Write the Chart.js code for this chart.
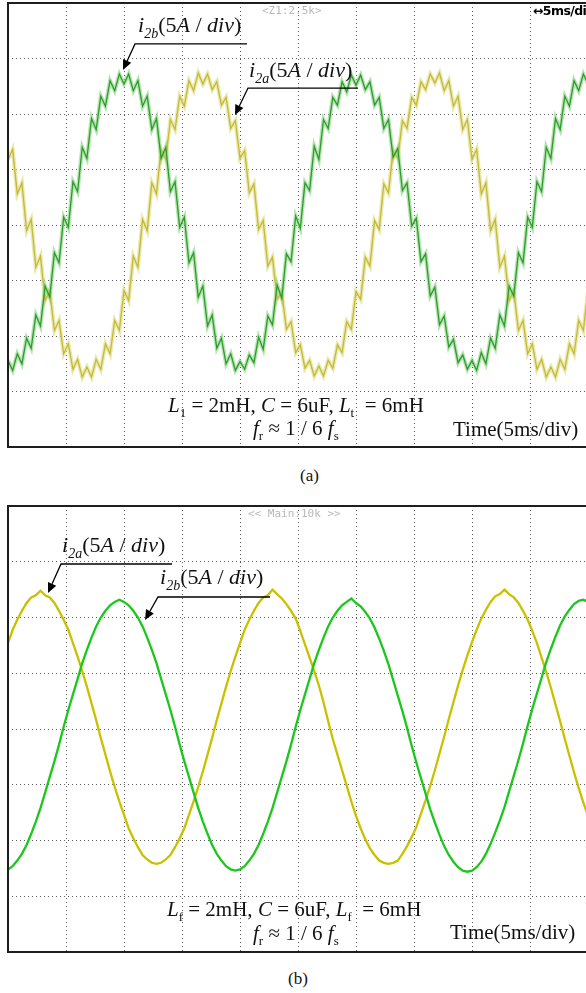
<!DOCTYPE html>
<html>
<head>
<meta charset="utf-8">
<script src="https://cdn.jsdelivr.net/npm/chart.js@4.4.1/dist/chart.umd.min.js"></script>
<style>
  html, body { margin: 0; padding: 0; background: #fff; }
  body { width: 586px; height: 993px; overflow: hidden; position: relative;
         font-family: "Liberation Serif", "Times New Roman", serif; color: #111; }
  canvas { position: absolute; left: 0; }
  #cvA { top: 0; }
  #cvB { top: 500px; }
  .t { position: absolute; white-space: nowrap; line-height: 1; }
  .lbl { font-size: 22px; }
  .lbl i { font-style: italic; }
  .lbl sub { font-size: 14px; font-style: italic; vertical-align: -6px; line-height: 0; }
  .eq { font-size: 21px; }
  .eq i { font-style: italic; }
  .eq sub { font-size: 13px; vertical-align: -5px; line-height: 0; }
  .scope { font-family: "DejaVu Sans Mono", monospace; font-size: 11px; color: #b8b8b8; }
  .divtag { font-family: "DejaVu Sans", sans-serif; font-weight: bold; font-size: 12.5px; color: #000; letter-spacing: -0.6px; }
  .cap { font-size: 17px; }
</style>
</head>
<body>
<canvas id="cvA" width="600" height="452"></canvas>
<canvas id="cvB" width="600" height="460"></canvas>

<!-- panel (a) texts -->
<div class="t scope" style="left:262px;top:5px">&lt;Z1:2.5k&gt;</div>
<div class="t divtag" style="left:533px;top:5px">↔5ms/div</div>
<div class="t lbl" style="left:138px;top:13.6px"><i>i</i><sub>2b</sub>(5<i>A</i> / <i>div</i>)</div>
<div class="t lbl" style="left:249px;top:58.6px"><i>i</i><sub>2a</sub>(5<i>A</i> / <i>div</i>)</div>
<div class="t eq" style="left:168px;top:395px"><i>L</i><sub>1</sub> = 2mH, <i>C</i> = 6uF, <i>L</i><sub>t</sub> &nbsp;= 6mH</div>
<div class="t eq" style="left:253px;top:418px"><i>f</i><sub>r</sub> ≈ 1 / 6 <i>f</i><sub>s</sub></div>
<div class="t eq" style="left:453px;top:419px">Time(5ms/div)</div>
<div class="t cap" style="left:300px;top:467px">(a)</div>

<!-- panel (b) texts -->
<div class="t scope" style="left:248px;top:508px">&lt;&lt; Main:10k &gt;&gt;</div>
<div class="t lbl" style="left:62px;top:534px"><i>i</i><sub>2a</sub>(5<i>A</i> / <i>div</i>)</div>
<div class="t lbl" style="left:160px;top:566px"><i>i</i><sub>2b</sub>(5<i>A</i> / <i>div</i>)</div>
<div class="t eq" style="left:167px;top:899px"><i>L</i><sub>f</sub> = 2mH, <i>C</i> = 6uF, <i>L</i><sub>f</sub> &nbsp;= 6mH</div>
<div class="t eq" style="left:253px;top:923px"><i>f</i><sub>r</sub> ≈ 1 / 6 <i>f</i><sub>s</sub></div>
<div class="t eq" style="left:450px;top:922px">Time(5ms/div)</div>
<div class="t cap" style="left:288px;top:970px">(b)</div>

<script>
// sample times, ms (10 div x 5 ms)
const timeMs = [0,0.4,0.8,1.2,1.6,2,2.4,2.8,3.2,3.6,4,4.4,4.8,5.2,5.6,6,6.4,6.8,7.2,7.6,
  8,8.4,8.8,9.2,9.6,10,10.4,10.8,11.2,11.6,12,12.4,12.8,13.2,13.6,14,14.4,14.8,15.2,15.6,
  16,16.4,16.8,17.2,17.6,18,18.4,18.8,19.2,19.6,20,20.4,20.8,21.2,21.6,22,22.4,22.8,23.2,23.6,
  24,24.4,24.8,25.2,25.6,26,26.4,26.8,27.2,27.6,28,28.4,28.8,29.2,29.6,30,30.4,30.8,31.2,31.6,
  32,32.4,32.8,33.2,33.6,34,34.4,34.8,35.2,35.6,36,36.4,36.8,37.2,37.6,38,38.4,38.8,39.2,39.6,
  40,40.4,40.8,41.2,41.6,42,42.4,42.8,43.2,43.6,44,44.4,44.8,45.2,45.6,46,46.4,46.8,47.2,47.6,
  48,48.4,48.8,49.2,49.6,50];

// tick grid: 5 ms/div, 5 A/div
const xTicks = [0,5,10,15,20,25,30,35,40,45,50];
const yTicks = [-20,-15,-10,-5,0,5,10,15,20];

// (a) fr ~ 1/6 fs : currents with switching ripple, A
const i2bA = [-12.2,-13.1,-11.6,-12.5,-10.2,-11.1,-8.1,-9.1,-5.5,-6.5,-2.5,-3.4,0.7,-0.2,3.9,3.0,7.0,6.0,9.6,8.6,
  11.6,10.7,13.0,12.1,13.6,12.7,13.6,12.1,13.0,10.7,11.6,8.6,9.6,6.0,7.0,3.0,3.9,-0.2,0.7,-3.4,
  -2.5,-6.5,-5.5,-9.1,-8.1,-11.1,-10.2,-12.5,-11.6,-13.1,
  -12.3,-13.0,-11.7,-12.4,-10.1,-11.2,-8.2,-9.0,-5.4,-6.6,-2.6,-3.3,0.8,-0.3,3.8,3.1,7.1,5.9,9.5,8.7,
  11.5,10.8,12.9,12.0,13.5,12.6,13.5,12.2,12.9,10.8,11.5,8.7,9.5,6.1,6.9,3.1,3.8,-0.1,0.6,-3.3,
  -2.6,-6.4,-5.6,-9.0,-8.2,-11.0,-10.3,-12.4,-11.7,-13.0,
  -12.2,-13.1,-11.5,-12.5,-10.2,-11.1,-8.1,-9.1,-5.5,-6.4,-2.5,-3.4,0.7,-0.2,3.9,3.0,7.0,6.0,9.6,8.6,
  11.6,10.7,13.0,12.1,13.6,12.7];
const i2aA = [5.9,6.8,2.8,3.8,-0.5,0.5,-3.8,-2.8,-6.8,-5.9,-9.5,-8.6,-11.6,-10.7,-13.0,-12.1,-13.7,-12.8,-13.7,-12.1,
  -13.0,-10.7,-11.6,-8.6,-9.5,-5.9,-6.8,-2.8,-3.8,0.5,-0.5,3.8,2.8,6.8,5.9,9.5,8.6,11.6,10.7,13.0,
  12.1,13.7,
  12.7,13.6,12.2,12.9,10.8,11.5,8.7,9.4,6.0,6.7,2.9,3.7,-0.4,0.4,-3.7,-2.9,-6.7,-6.0,-9.4,-8.7,
  -11.5,-10.8,-12.9,-12.2,-13.6,-12.7,-13.6,-12.2,-12.9,-10.8,-11.5,-8.7,-9.4,-6.0,-6.7,-2.9,-3.7,0.4,-0.4,3.7,
  2.9,6.7,6.0,9.4,8.7,11.5,10.8,12.9,12.2,13.6,
  12.8,13.7,12.1,13.0,10.7,11.6,8.6,9.5,5.9,6.8,2.8,3.8,-0.5,0.5,-3.8,-2.8,-6.8,-5.9,-9.5,-8.6,
  -11.6,-10.7,-13.0,-12.1,-13.7,-12.8,-13.7,-12.1,-13.0,-10.7,-11.6,-8.6,-9.5,-5.9];

// (b) smooth currents, A
const i2aB = [7.7,8.9,9.8,10.6,11.3,11.8,12.0,
  12.4,12.0,11.8,11.3,10.6,9.8,8.9,7.7,6.5,5.2,3.8,2.3,0.8,-0.8,-2.3,-3.8,-5.2,-6.5,-7.7,-8.9,
  -9.8,-10.6,-11.3,-11.7,-12.0,-12.1,-12.0,-11.7,-11.3,-10.6,-9.8,-8.9,-7.7,-6.5,-5.2,-3.8,-2.3,-0.8,0.8,2.3,
  3.8,5.2,6.5,7.7,8.9,9.8,10.6,11.3,11.8,12.0,
  12.5,12.1,11.7,11.2,10.6,9.9,8.8,7.6,6.4,5.2,3.9,2.4,0.7,-0.9,-2.3,-3.7,-5.1,-6.5,-7.8,-8.9,
  -9.9,-10.7,-11.3,-11.8,-12.0,-12.1,-12.0,-11.8,-11.2,-10.5,-9.7,-8.8,-7.6,-6.4,-5.1,-3.7,-2.2,-0.7,0.9,2.4,
  3.9,5.3,6.6,7.8,8.9,9.9,10.7,11.4,11.9,12.1,
  12.5,12.1,11.8,11.3,10.6,9.8,8.8,7.7,6.4,5.1,3.7,2.2,0.7,-0.9,-2.4,-3.9,-5.3,-6.6,-7.8];
const i2bB = [-12.6,-12.3,-11.8,-11.2,-10.4,-9.4,-8.3,-7.1,-5.7,-4.3,-2.9,-1.4,0.2,1.7,3.1,4.5,5.9,7.1,8.2,9.2,
  10.0,10.6,11.1,11.4,
  11.6,11.4,11.1,10.6,10.0,9.2,8.2,7.1,5.9,4.5,3.1,1.7,0.2,-1.4,-2.9,-4.3,-5.7,-7.1,-8.3,-9.4,
  -10.4,-11.2,-11.8,-12.3,-12.6,-12.7,-12.6,-12.3,-11.8,-11.2,-10.4,-9.4,-8.3,-7.1,-5.7,-4.3,-2.9,-1.4,0.2,1.7,
  3.1,4.5,5.9,7.1,8.2,9.2,10.0,10.6,11.1,11.4,
  11.7,11.3,11.0,10.5,9.9,9.1,8.1,7.0,5.8,4.4,3.0,1.6,0.1,-1.5,-3.0,-4.4,-5.8,-7.2,-8.4,-9.5,
  -10.5,-11.3,-11.9,-12.4,-12.7,-12.8,-12.7,-12.4,-11.9,-11.2,-10.3,-9.3,-8.2,-7.0,-5.6,-4.2,-2.8,-1.3,0.3,1.8,
  3.2,4.6,6.0,7.2,8.3,9.3,10.1,10.7,11.2,11.5,
  11.6,11.4];

function pts(ys) { return ys.map(function (v, i) { return { x: timeMs[i], y: v }; }); }

// frame + leader arrows (arrow points given in ms / A)
const scopeFrame = {
  id: 'scopeFrame',
  afterDatasetsDraw(chart, args, opts) {
    const ctx = chart.ctx, a = chart.chartArea, sx = chart.scales.x, sy = chart.scales.y;
    ctx.save();
    ctx.strokeStyle = '#1e1e1e';
    ctx.lineWidth = 2;
    ctx.beginPath();
    ctx.moveTo(a.right + 4, a.top); ctx.lineTo(a.left, a.top);
    ctx.lineTo(a.left, a.bottom); ctx.lineTo(a.right + 4, a.bottom);
    ctx.stroke();

    (opts.arrows || []).forEach(function (ar) {
      const e = [sx.getPixelForValue(ar.end[0]), sy.getPixelForValue(ar.end[1])];
      const c = [sx.getPixelForValue(ar.corner[0]), sy.getPixelForValue(ar.corner[1])];
      const p = [sx.getPixelForValue(ar.tip[0]), sy.getPixelForValue(ar.tip[1])];
      const ang = Math.atan2(p[1] - c[1], p[0] - c[0]);
      const hl = 10, hw = 4.5;
      const bx = p[0] - hl * Math.cos(ang), by = p[1] - hl * Math.sin(ang);
      ctx.strokeStyle = '#000';
      ctx.lineWidth = 1.3;
      ctx.beginPath();
      ctx.moveTo(e[0], e[1]); ctx.lineTo(c[0], c[1]); ctx.lineTo(bx, by);
      ctx.stroke();
      ctx.fillStyle = '#000';
      ctx.beginPath();
      ctx.moveTo(p[0], p[1]);
      ctx.lineTo(bx + hw * Math.sin(ang), by - hw * Math.cos(ang));
      ctx.lineTo(bx - hw * Math.sin(ang), by + hw * Math.cos(ang));
      ctx.closePath();
      ctx.fill();
    });
    ctx.restore();
  }
};

function scopeScales() {
  return {
    x: { type: 'linear', min: 0, max: 50, afterBuildTicks: function (s) { s.ticks = xTicks.map(function (v) { return { value: v }; }); },
         ticks: { display: false }, grid: { color: '#5a5a5a', lineWidth: 1, drawTicks: false },
         border: { display: false, dash: [1, 3] } },
    y: { type: 'linear', min: -20, max: 20, afterBuildTicks: function (s) { s.ticks = yTicks.map(function (v) { return { value: v }; }); },
         ticks: { display: false }, grid: { color: '#5a5a5a', lineWidth: 1, drawTicks: false },
         border: { display: false, dash: [1, 3] } }
  };
}

function line(data, color, width) {
  return { data: pts(data), borderColor: color, borderWidth: width, pointRadius: 0, tension: 0, fill: false };
}

new Chart(document.getElementById('cvA'), {
  type: 'line',
  data: { datasets: [
    line(i2bA, '#2f9a2f', 1.3),
    line(i2aA, '#c2bb3a', 1.3),
    line(i2bA, 'rgba(130,212,120,0.6)', 4),
    line(i2aA, 'rgba(226,222,140,0.7)', 4)
  ] },
  options: {
    responsive: false, animation: false, events: [],
    layout: { padding: { left: 8, right: 12, top: 3, bottom: 5 } },
    plugins: { legend: { display: false }, tooltip: { enabled: false },
      scopeFrame: { arrows: [
        { end: [20.6, 16.31], corner: [10.95, 16.31], tip: [9.91, 13.96] },
        { end: [30.17, 12.34], corner: [20.69, 12.34], tip: [19.57, 9.91] }
      ] } },
    scales: scopeScales()
  },
  plugins: [scopeFrame]
});

new Chart(document.getElementById('cvB'), {
  type: 'line',
  data: { datasets: [
    line(i2bB, '#1dc61d', 2.3),
    line(i2aB, '#c9c100', 2.3)
  ] },
  options: {
    responsive: false, animation: false, events: [],
    layout: { padding: { left: 8, right: 12, top: 6, bottom: 8 } },
    plugins: { legend: { display: false }, tooltip: { enabled: false },
      scopeFrame: { arrows: [
        { end: [14.14, 14.8], corner: [4.57, 14.8], tip: [3.45, 12.2] },
        { end: [22.59, 11.84], corner: [12.93, 11.84], tip: [11.81, 9.78] }
      ] } },
    scales: scopeScales()
  },
  plugins: [scopeFrame]
});
</script>
</body>
</html>
